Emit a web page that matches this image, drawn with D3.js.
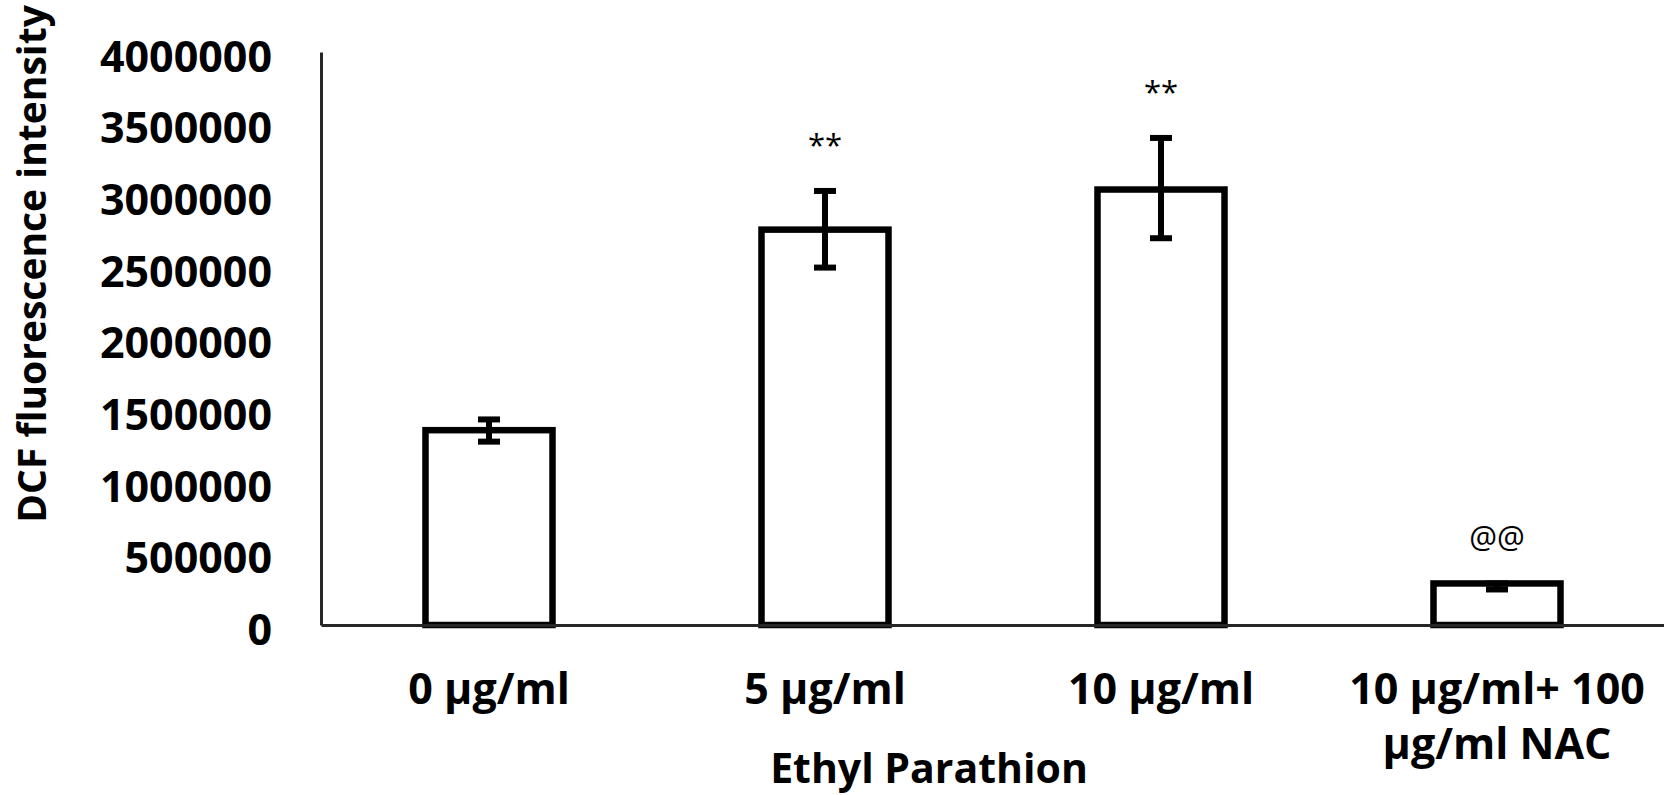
<!DOCTYPE html>
<html>
<head>
<title>DCF fluorescence intensity</title>
<style>
    body { margin: 0; background: #fff; }
    text { font-family: "Open Sans", sans-serif; font-weight: bold; fill: #000; }
    .axis path { stroke: #262626; stroke-width: 3; }
    .axis text { font-size: 43px; }
    .bar { fill: #fff; stroke: #000; stroke-width: 6.5; }
    .err { stroke: #000; stroke-width: 6; }
    .mark { font-weight: normal; font-size: 31px; text-anchor: middle; }
</style>
<script src="https://d3js.org/d3.v7.min.js"></script>
</head>
<body>
<svg width="1664" height="795"></svg>
<script>

var categories = ["0 µg/ml", "5 µg/ml", "10 µg/ml", "10 µg/ml+ 100 µg/ml NAC"];
var means = [1360000, 2760000, 3040000, 290000];
var errUp = [75000, 270000, 360000, 0];
var errDown = [80000, 265000, 340000, 42000];
var marks = ["", "**", "**", "@@"];
var yTicks = [0, 500000, 1000000, 1500000, 2000000, 2500000, 3000000, 3500000, 4000000];

var svg = d3.select("svg");

var x = d3.scaleBand()
    .domain(categories)
    .range([321, 1665])
    .paddingInner(0.622)
    .paddingOuter(0.311);

var y = d3.scaleLinear()
    .domain([0, 4000000])
    .range([625, 52]);

var data = categories.map(function(c, i) {
    return { cat: c, mean: means[i], up: errUp[i], down: errDown[i], mark: marks[i] };
});

// bars
svg.selectAll(".bar")
    .data(data)
    .enter().append("rect")
    .attr("class", "bar")
    .attr("x", function(d) { return x(d.cat); })
    .attr("width", x.bandwidth())
    .attr("y", function(d) { return y(d.mean); })
    .attr("height", function(d) { return y(0) - y(d.mean); });

// error bars
var eb = svg.selectAll(".eb")
    .data(data)
    .enter().append("g")
    .attr("class", "eb");

function cx(d) { return x(d.cat) + x.bandwidth() / 2; }

eb.append("line").attr("class", "err")
    .attr("x1", cx).attr("x2", cx)
    .attr("y1", function(d) { return y(d.mean + d.up); })
    .attr("y2", function(d) { return y(d.mean - d.down); });
eb.append("line").attr("class", "err")
    .attr("x1", function(d) { return cx(d) - 11; })
    .attr("x2", function(d) { return cx(d) + 11; })
    .attr("y1", function(d) { return y(d.mean + d.up); })
    .attr("y2", function(d) { return y(d.mean + d.up); });
eb.append("line").attr("class", "err")
    .attr("x1", function(d) { return cx(d) - 11; })
    .attr("x2", function(d) { return cx(d) + 11; })
    .attr("y1", function(d) { return y(d.mean - d.down); })
    .attr("y2", function(d) { return y(d.mean - d.down); });

// significance marks
svg.selectAll(".mark")
    .data(data)
    .enter().append("text")
    .attr("class", "mark")
    .attr("x", cx)
    .attr("y", function(d) { return y(d.mean + d.up) - 35; })
    .text(function(d) { return d.mark; });

// y axis
svg.append("g")
    .attr("class", "axis")
    .attr("transform", "translate(321,0)")
    .call(d3.axisLeft(y).tickValues(yTicks).tickSize(0).tickPadding(49).tickFormat(d3.format("d")))
    .selectAll("text").attr("dy", "0.45em");

// x axis
var xa = svg.append("g")
    .attr("class", "axis")
    .attr("transform", "translate(0,625)")
    .call(d3.axisBottom(x).tickSize(0).tickPadding(48));

xa.selectAll(".tick text").call(wrap, 330);

function wrap(sel, width) {
    sel.each(function() {
        var t = d3.select(this),
            words = t.text().split(/\s+/),
            line = [],
            lines = [];
        t.text(null);
        var probe = t.append("tspan");
        words.forEach(function(w) {
            line.push(w);
            probe.text(line.join(" "));
            if (probe.node().getComputedTextLength() > width && line.length > 1) {
                line.pop();
                lines.push(line.join(" "));
                line = [w];
            }
        });
        lines.push(line.join(" "));
        probe.remove();
        var y0 = t.attr("y"), dy0 = t.attr("dy");
        lines.forEach(function(l, i) {
            t.append("tspan")
                .attr("x", 0)
                .attr("y", y0)
                .attr("dy", i === 0 ? dy0 : (0.71 + i * 1.28) + "em")
                .text(l);
        });
    });
}

// axis titles
svg.append("text")
    .attr("x", 929)
    .attr("y", 783)
    .attr("text-anchor", "middle")
    .style("font-size", "41px")
    .text("Ethyl Parathion");

svg.append("text")
    .attr("transform", "translate(46,264) rotate(-90)")
    .attr("text-anchor", "middle")
    .style("font-size", "39px")
    .text("DCF fluorescence intensity");

</script>
</body>
</html>
